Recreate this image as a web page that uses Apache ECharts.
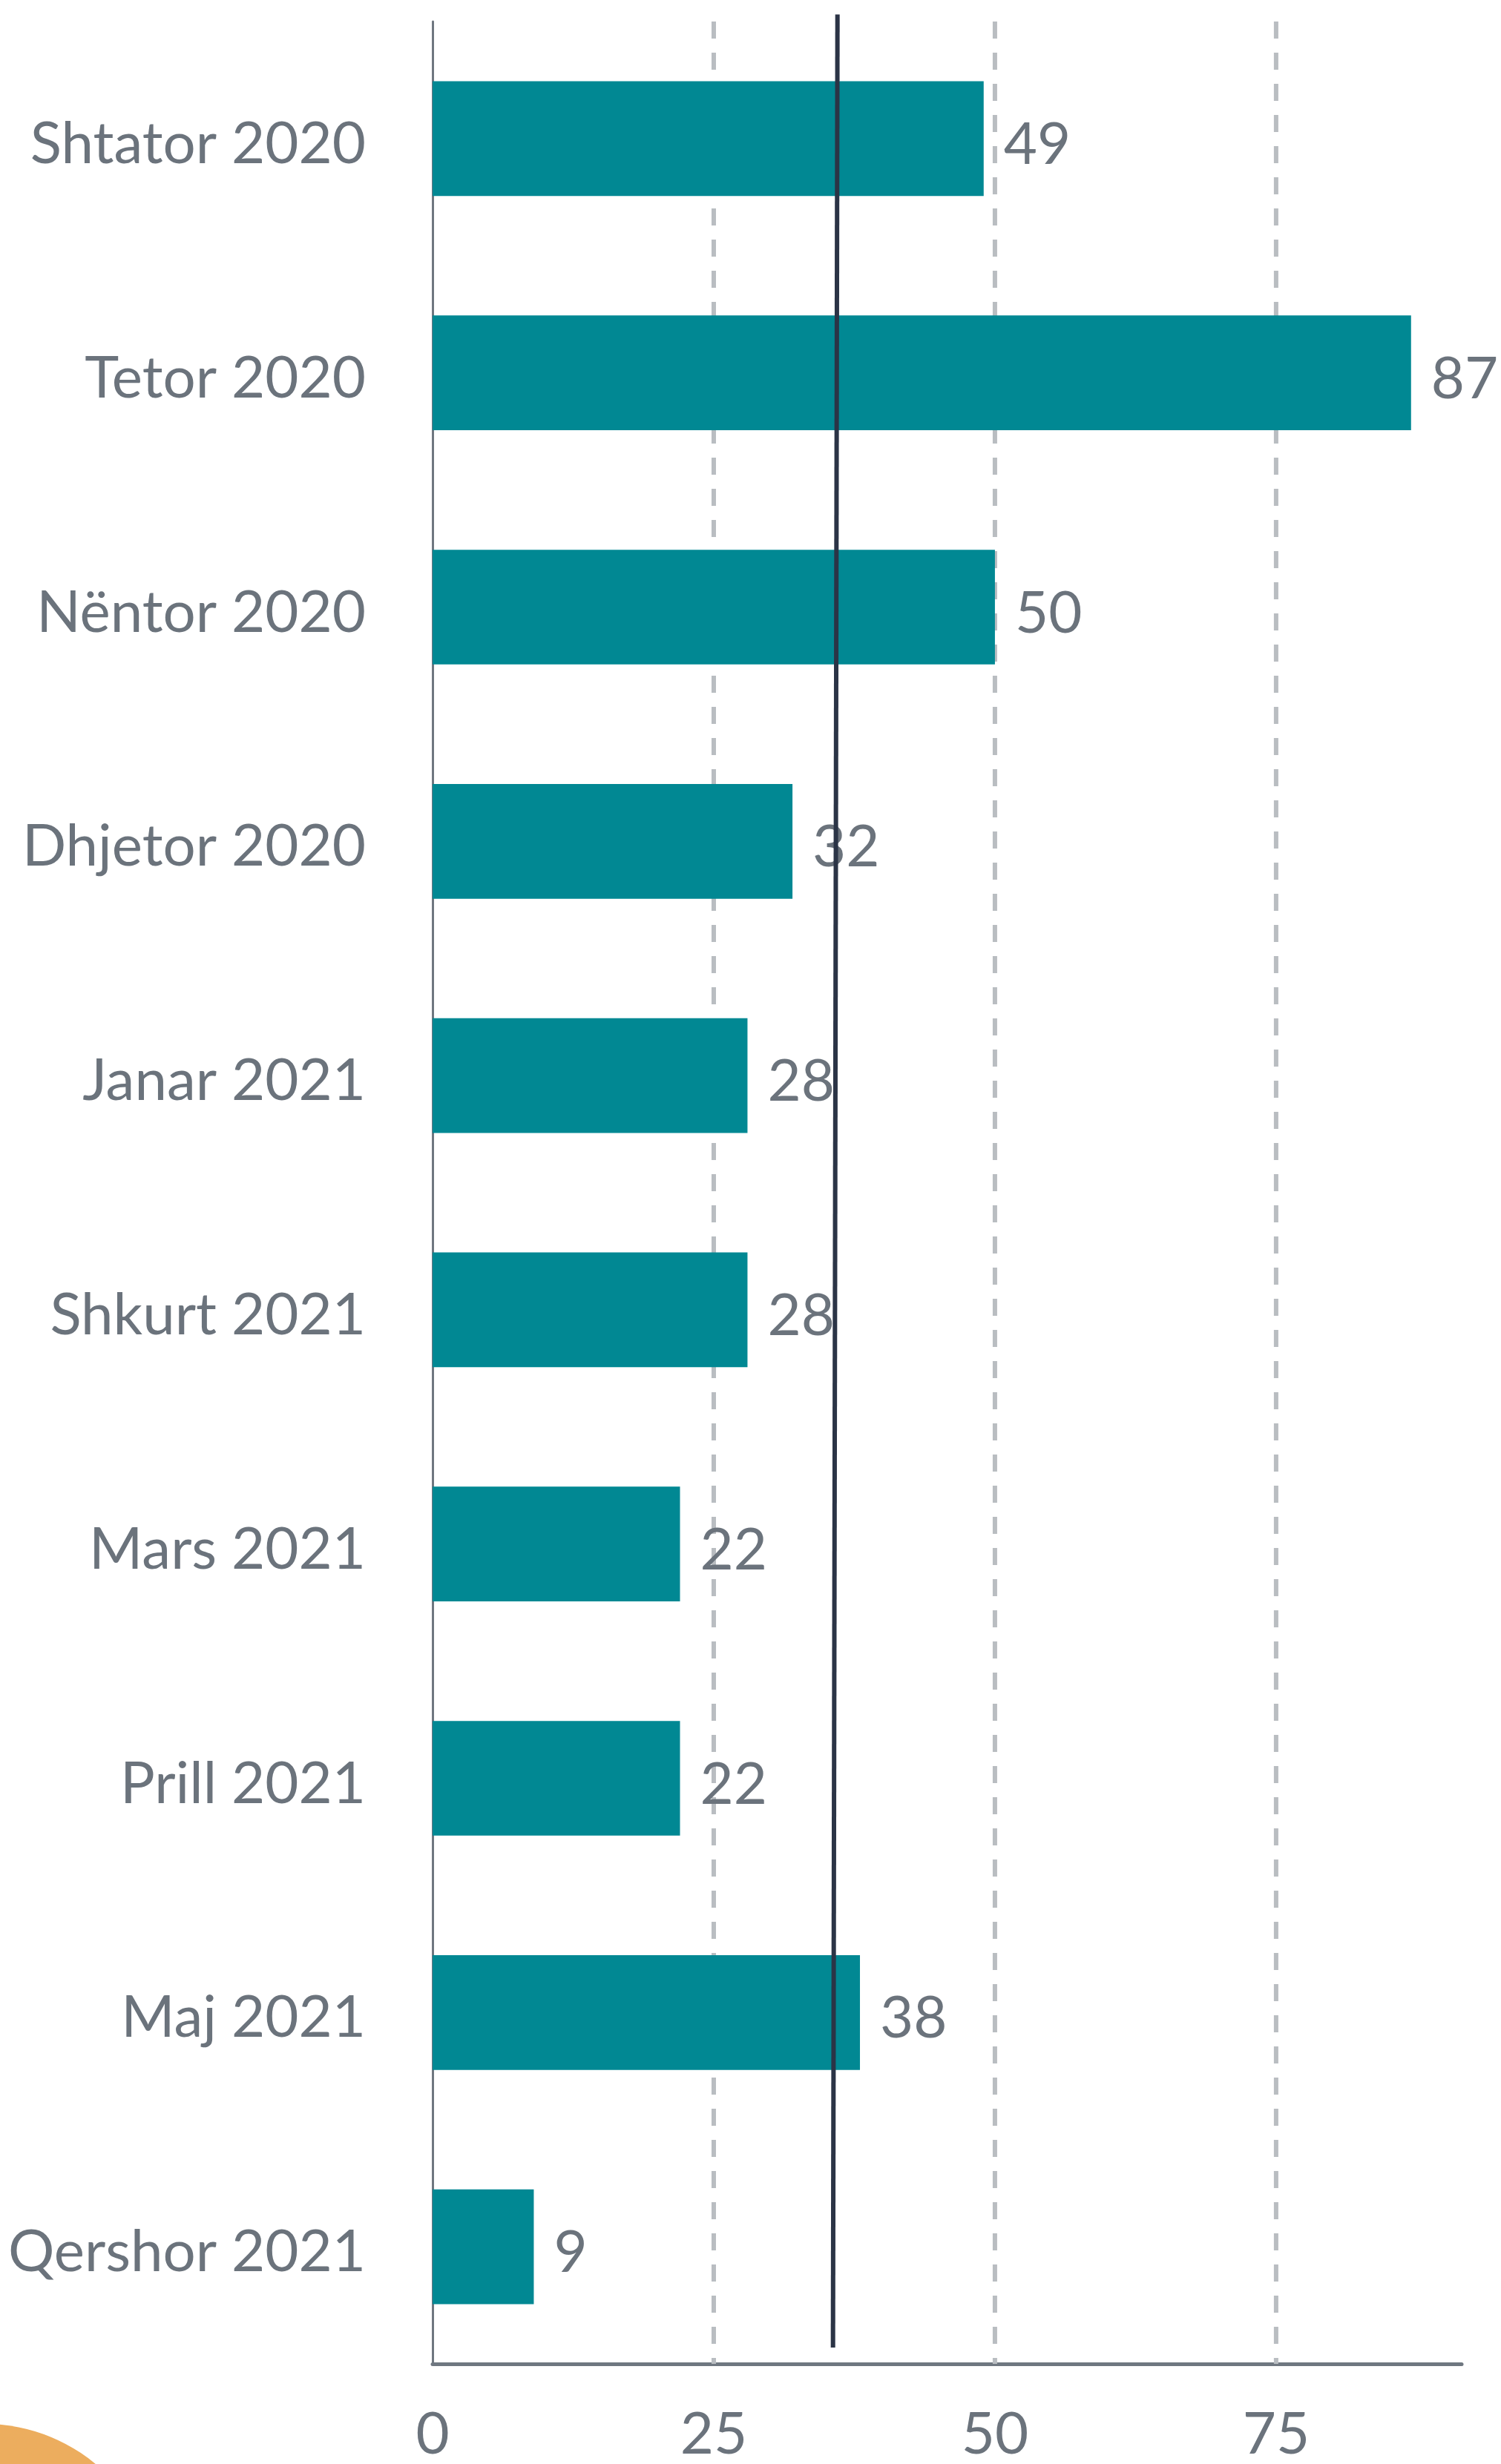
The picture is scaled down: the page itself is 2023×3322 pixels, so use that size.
<!DOCTYPE html>
<html>
<head>
<meta charset="utf-8">
<script src="https://cdn.jsdelivr.net/npm/echarts@6/dist/echarts.min.js"></script>
<style>
  html, body { margin: 0; padding: 0; background: #fff; }
  #chart { width: 2023px; height: 3322px; }
</style>
</head>
<body>
<div id="chart"></div>
<script>
// muajt (nga lart poshte)
const months = ['Shtator 2020', 'Tetor 2020', 'Nëntor 2020', 'Dhjetor 2020', 'Janar 2021',
  'Shkurt 2021', 'Mars 2021', 'Prill 2021', 'Maj 2021', 'Qershor 2021']
// vlerat
const counts = [49, 87, 50, 32, 28, 28, 22, 22, 38, 9]
// vijat e rrjetit
const gridValues = [25, 50, 75]
// vija mesatare: [vlera, pozicioni ne boshtin e kategorive] ne krye dhe ne fund
const avgTop = [36.0, -0.53]
const avgBottom = [35.6, 9.43]

const textGray = '#6b737c'
const axisGray = '#6f7780'
const font = 'Lato'

const chart = echarts.init(document.getElementById('chart'))

// vijat e nderprera si seri te vecanta, mbi boshtin ndihmes
const gridSeries = gridValues.map(v => ({
  type: 'line',
  yAxisIndex: 1,
  z: 1,
  silent: true,
  clip: false,
  symbol: 'none',
  lineStyle: { color: '#b9bdc1', width: 6, type: [23, 19] },
  data: [[v, -0.5], [v, months.length - 0.5]]
}))

chart.setOption({
  animation: false,
  grid: {
    left: 583,
    right: 53,
    top: 29,
    bottom: 132
  },
  xAxis: {
    type: 'value',
    min: 0,
    max: 91.5,
    interval: 25,
    axisLine: { show: true, onZero: false, lineStyle: { color: axisGray, width: 5 } },
    axisTick: { show: false },
    splitLine: { show: false },
    axisLabel: {
      showMaxLabel: false,
      margin: 57,
      color: textGray,
      fontFamily: font,
      fontSize: 78
    }
  },
  yAxis: [
    {
      type: 'category',
      data: months,
      inverse: true,
      axisLine: { show: true, lineStyle: { color: axisGray, width: 3 } },
      axisTick: { show: false },
      axisLabel: {
        margin: 90,
        formatter: v => '{m|' + v + '}',
        rich: {
          m: {
            padding: [16, 0, 0, 0],
            color: textGray,
            fontFamily: font,
            fontSize: 78
          }
        }
      }
    },
    {
      // bosht ndihmes i fshehur, i njejte me brezat e kategorive
      type: 'value',
      show: false,
      inverse: true,
      min: -0.5,
      max: months.length - 0.5
    }
  ],
  series: [
    ...gridSeries,
    {
      type: 'bar',
      z: 2,
      data: counts,
      barWidth: '49%',
      itemStyle: { color: '#018893' },
      label: {
        show: true,
        position: 'right',
        distance: 27,
        offset: [0, 9],
        color: textGray,
        fontFamily: font,
        fontSize: 78
      }
    },
    {
      // vija mesatare
      type: 'line',
      yAxisIndex: 1,
      z: 5,
      silent: true,
      clip: false,
      symbol: 'none',
      lineStyle: { color: '#2b3446', width: 6 },
      data: [avgTop, avgBottom]
    }
  ],
  graphic: [
    {
      type: 'circle',
      shape: { cx: -20, cy: 3500, r: 232 },
      style: { fill: '#ecad5e' },
      z: 0
    }
  ]
})
</script>
</body>
</html>
